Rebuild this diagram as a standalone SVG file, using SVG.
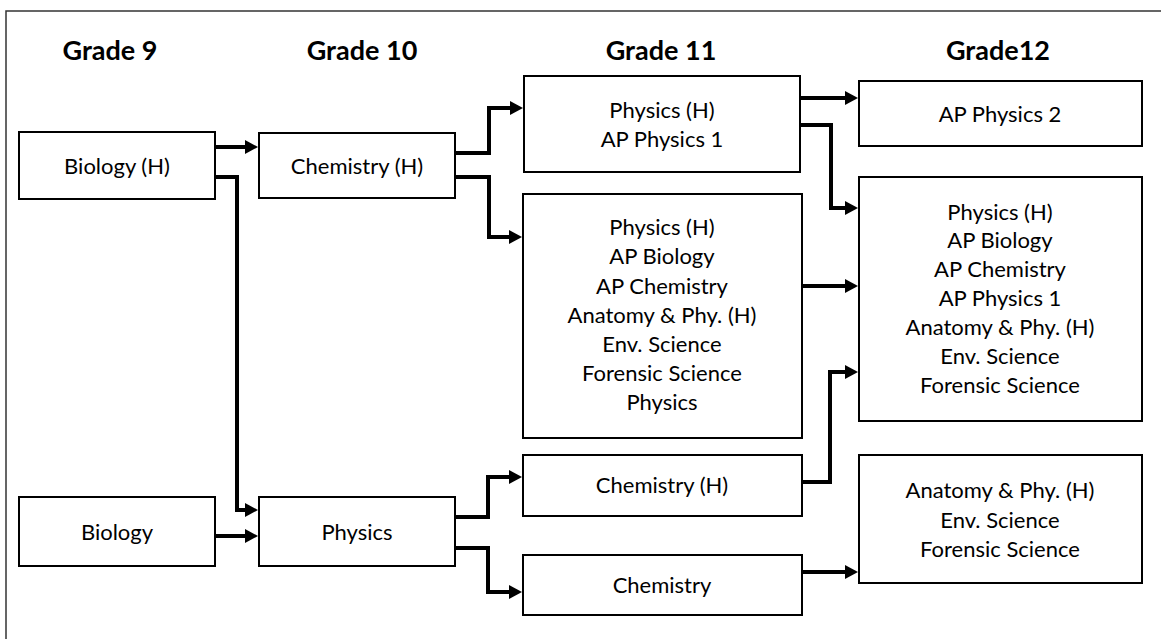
<svg xmlns="http://www.w3.org/2000/svg" width="1161" height="639" viewBox="0 0 1161 639">
<style>
.box{fill:#fff;stroke:#000;stroke-width:2}
.t{font-family:Lato,"Liberation Sans",sans-serif;font-size:22px;fill:#000;text-anchor:middle}
.h{font-family:Lato,"Liberation Sans",sans-serif;font-size:27px;font-weight:bold;fill:#000;text-anchor:middle}
.c{fill:none;stroke:#000;stroke-width:4;stroke-linejoin:miter}
</style>
<defs>
<marker id="ah" markerUnits="userSpaceOnUse" markerWidth="14" markerHeight="14" refX="1" refY="7" orient="auto" overflow="visible">
<path d="M0,0 L13,7 L0,14 z" fill="#000"/>
</marker>
</defs>
<rect x="0" y="0" width="1161" height="639" fill="#fff"/>
<rect x="6" y="11" width="1170" height="650" fill="none" stroke="#333" stroke-width="1.5"/>
<g id="headings">
<text class="h" x="110" y="60">Grade 9</text>
<text class="h" x="362" y="60">Grade 10</text>
<text class="h" x="661" y="60">Grade 11</text>
<text class="h" x="998" y="60">Grade12</text>
</g>
<g id="connectors">
<path class="c" d="M215,147 H246" marker-end="url(#ah)"/>
<path class="c" d="M215,177 H237 V510 H246" marker-end="url(#ah)"/>
<path class="c" d="M215,536 H246" marker-end="url(#ah)"/>
<path class="c" d="M455,153 H489 V108 H511" marker-end="url(#ah)"/>
<path class="c" d="M455,177 H489 V237 H510" marker-end="url(#ah)"/>
<path class="c" d="M455,517 H488 V477 H510" marker-end="url(#ah)"/>
<path class="c" d="M455,548 H488 V592 H510" marker-end="url(#ah)"/>
<path class="c" d="M800,98 H846" marker-end="url(#ah)"/>
<path class="c" d="M800,125 H831 V208 H846" marker-end="url(#ah)"/>
<path class="c" d="M802,286 H846" marker-end="url(#ah)"/>
<path class="c" d="M802,482 H830 V372 H846" marker-end="url(#ah)"/>
<path class="c" d="M802,572 H846" marker-end="url(#ah)"/>
</g>
<g id="n-bioh">
<rect class="box" x="19" y="132" width="196" height="67"/>
<text class="t" x="117" y="174">Biology (H)</text>
</g>
<g id="n-chemh10">
<rect class="box" x="259" y="133" width="196" height="65"/>
<text class="t" x="357" y="174">Chemistry (H)</text>
</g>
<g id="n-g11top">
<rect class="box" x="524" y="76" width="276" height="96"/>
<text class="t" x="662" y="118">Physics (H)</text>
<text class="t" x="662" y="147">AP Physics 1</text>
</g>
<g id="n-g12ap2">
<rect class="box" x="859" y="81" width="283" height="65"/>
<text class="t" x="1000" y="122">AP Physics 2</text>
</g>
<g id="n-g11big">
<rect class="box" x="523" y="194" width="279" height="244"/>
<text class="t" x="662" y="235">Physics (H)</text>
<text class="t" x="662" y="264">AP Biology</text>
<text class="t" x="662" y="294">AP Chemistry</text>
<text class="t" x="662" y="323">Anatomy &amp; Phy. (H)</text>
<text class="t" x="662" y="352">Env. Science</text>
<text class="t" x="662" y="381">Forensic Science</text>
<text class="t" x="662" y="410">Physics</text>
</g>
<g id="n-g12big">
<rect class="box" x="859" y="177" width="283" height="244"/>
<text class="t" x="1000" y="220">Physics (H)</text>
<text class="t" x="1000" y="248">AP Biology</text>
<text class="t" x="1000" y="277">AP Chemistry</text>
<text class="t" x="1000" y="306">AP Physics 1</text>
<text class="t" x="1000" y="335">Anatomy &amp; Phy. (H)</text>
<text class="t" x="1000" y="364">Env. Science</text>
<text class="t" x="1000" y="393">Forensic Science</text>
</g>
<g id="n-bio">
<rect class="box" x="19" y="497" width="196" height="69"/>
<text class="t" x="117" y="540">Biology</text>
</g>
<g id="n-phys10">
<rect class="box" x="259" y="497" width="196" height="69"/>
<text class="t" x="357" y="540">Physics</text>
</g>
<g id="n-chemh11">
<rect class="box" x="523" y="455" width="279" height="61"/>
<text class="t" x="662" y="493">Chemistry (H)</text>
</g>
<g id="n-chem11">
<rect class="box" x="523" y="555" width="279" height="60"/>
<text class="t" x="662" y="593">Chemistry</text>
</g>
<g id="n-g12bot">
<rect class="box" x="859" y="455" width="283" height="128"/>
<text class="t" x="1000" y="498">Anatomy &amp; Phy. (H)</text>
<text class="t" x="1000" y="528">Env. Science</text>
<text class="t" x="1000" y="557">Forensic Science</text>
</g>
</svg>
